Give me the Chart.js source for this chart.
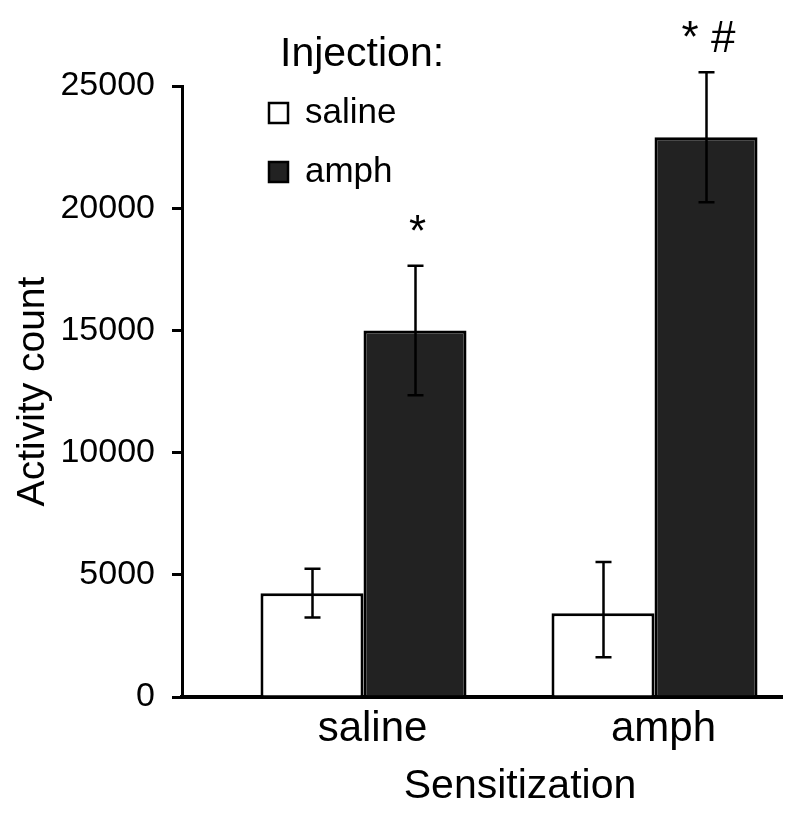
<!DOCTYPE html>
<html><head><meta charset="utf-8">
<script src="https://cdn.jsdelivr.net/npm/chart.js@4"></script>
<style>html,body{margin:0;padding:0;background:#fff}#wrap{width:800px;height:816px}</style>
</head><body><div id="wrap"><canvas id="c" width="800" height="816"></canvas></div>
<script>
// ---- data ----
const categories = ['saline', 'amph'];        // Sensitization groups (x axis)
const seriesNames = ['saline', 'amph'];       // Injection (legend)
const salineMeans = [4250, 3430];
const salineErrUp = [1000, 2090];
const salineErrDown = [1000, 1800];
const amphMeans = [15000, 22900];
const amphErrUp = [2650, 2660];
const amphErrDown = [2650, 2660];
const salineSig = ['', ''];
const amphSig = ['*', '* #'];
const yTicks = [0, 5000, 10000, 15000, 20000, 25000];
const legendTitle = 'Injection:';
const xTitle = 'Sensitization';
const yTitle = 'Activity count';

const FONT = '"Liberation Sans", Arial, Helvetica, sans-serif';
Chart.defaults.font.family = FONT;
Chart.defaults.color = '#000';

const xPos = categories.map((c, i) => i + 1);
const mk = (means, up, down) => means.map((v, i) => ({x: xPos[i], y: v, errUp: up[i], errDown: down[i]}));

const extras = {
  id: 'extras',
  afterDatasetsDraw(chart) {
    const ctx = chart.ctx, ys = chart.scales.y;
    ctx.save();
    chart.data.datasets.forEach((ds, di) => {
      const meta = chart.getDatasetMeta(di);
      meta.data.forEach((bar, j) => {
        const d = ds.data[j];
        const x = Math.round(bar.x) + 0.5;
        const yt = ys.getPixelForValue(d.y + d.errUp);
        const yb = ys.getPixelForValue(d.y - d.errDown);
        ctx.strokeStyle = '#000';
        ctx.lineWidth = 2.5;
        ctx.beginPath();
        ctx.moveTo(x, yt); ctx.lineTo(x, yb);
        ctx.moveTo(x - 8, yt); ctx.lineTo(x + 8, yt);
        ctx.moveTo(x - 8, yb); ctx.lineTo(x + 8, yb);
        ctx.stroke();
        const s = ds.sig && ds.sig[j];
        if (s) {
          ctx.fillStyle = '#000';
          ctx.font = '44px ' + FONT;
          ctx.textAlign = 'center';
          ctx.textBaseline = 'alphabetic';
          ctx.fillText(s, x + 2, yt - 20);
        }
      });
    });
    ctx.restore();
  },
  afterDraw(chart) {
    const ctx = chart.ctx;
    ctx.save();
    // legend
    ctx.fillStyle = '#000';
    ctx.textAlign = 'left';
    ctx.textBaseline = 'alphabetic';
    ctx.font = '41px ' + FONT;
    ctx.fillText(legendTitle, 280, 66);
    ctx.font = '35px ' + FONT;
    chart.data.datasets.forEach((ds, i) => {
      const base = 123 + i * 59;
      ctx.fillStyle = ds.backgroundColor;
      ctx.fillRect(269, base - 20, 19, 20);
      ctx.strokeStyle = '#000';
      ctx.lineWidth = 2.5;
      ctx.strokeRect(269, base - 20, 19, 20);
      ctx.fillStyle = '#000';
      ctx.fillText(ds.label, 305, base);
    });
    // x axis title
    ctx.font = '41px ' + FONT;
    ctx.textAlign = 'center';
    ctx.textBaseline = 'middle';
    ctx.fillText(xTitle, 520, 787);
    ctx.restore();
  }
};

new Chart(document.getElementById('c'), {
  type: 'bar',
  data: {
    datasets: [
      {label: seriesNames[0], data: mk(salineMeans, salineErrUp, salineErrDown), sig: salineSig,
       backgroundColor: '#ffffff', borderColor: '#000', borderWidth: 3,
       categoryPercentage: 0.708, barPercentage: 1},
      {label: seriesNames[1], data: mk(amphMeans, amphErrUp, amphErrDown), sig: amphSig,
       backgroundColor: '#222222', borderColor: '#000', borderWidth: 3,
       categoryPercentage: 0.708, barPercentage: 1}
    ]
  },
  options: {
    responsive: false,
    devicePixelRatio: 1,
    animation: false,
    layout: {padding: {top: 86, right: 18, bottom: 0, left: 0}},
    plugins: {legend: {display: false}, tooltip: {enabled: false}},
    scales: {
      x: {
        type: 'linear', offset: false, min: 0.3763, max: 2.4381,
        afterBuildTicks: s => { s.ticks = xPos.map(v => ({value: v})); },
        ticks: {callback: v => categories[Math.round(v) - 1], font: {size: 42}, color: '#000',
                padding: 7, labelOffset: 9, autoSkip: false, maxRotation: 0},
        grid: {display: false, drawTicks: false, offset: false},
        border: {display: true, color: '#000', width: 4},
        afterFit: s => { s.height = 119; }
      },
      y: {
        min: 0, max: 25000,
        afterBuildTicks: s => { s.ticks = yTicks.map(v => ({value: v})); },
        ticks: {font: {size: 34}, color: '#000', padding: 17, callback: v => String(v)},
        grid: {display: true, drawOnChartArea: false, drawTicks: true, tickLength: 10, color: '#000', lineWidth: 3},
        border: {display: true, color: '#000', width: 3},
        title: {display: true, text: yTitle, font: {size: 39}, color: '#000', padding: {top: 10, bottom: 0}},
        afterFit: s => { s.width = 182; }
      }
    }
  },
  plugins: [extras]
});
</script>
</body></html>
